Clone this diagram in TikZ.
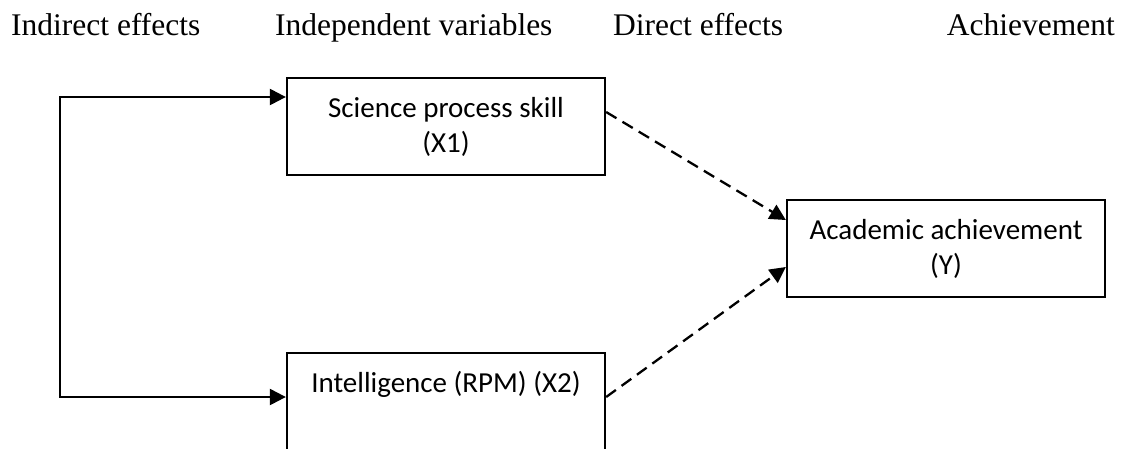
\documentclass[tikz,border=0pt]{standalone}
\usepackage{fontspec}
\setmainfont{Liberation Serif}
\newfontfamily\calibri{Carlito}
\usetikzlibrary{arrows.meta}
\begin{document}
\begin{tikzpicture}[x=1pt,y=1pt,
  head/.style={font=\fontsize{31.5}{38}\selectfont, anchor=base west, inner sep=0},
  varbox/.style={draw, line width=2.3pt, font=\calibri\fontsize{29}{35}\selectfont, align=center, inner sep=0},
  tipstyle/.style={line width=2.3pt, line join=miter},
  link/.style={tipstyle, -{Triangle[length=16pt,width=16pt]}},
  dlink/.style={link, dash pattern=on 12pt off 7pt}]
\useasboundingbox (0,0) rectangle (1122,-448);
\node[head] (h1) at (11,-35) {Indirect effects};
\node[head] (h2) at (275,-35) {Independent variables};
\node[head] (h3) at (613,-35) {Direct effects};
\node[head, anchor=base east] (h4) at (1115,-35) {Achievement};
\node[varbox, minimum width=318, minimum height=97] (x1) at (446,-126.5) {Science process skill\\(X1)};
\node[varbox, minimum width=318, text height=39, text depth=70, anchor=base] (x2) at (446,-392) {Intelligence (RPM) (X2)};
\node[varbox, minimum width=318, minimum height=97] (y) at (946,-248.5) {Academic achievement\\(Y)};
\coordinate (c1) at (60,-97);
\coordinate (c2) at (60,-397);
\draw[tipstyle, {Triangle[length=16pt,width=16pt]}-{Triangle[length=16pt,width=16pt]}] (x1.west |- c1) -- (c1) -- (c2) -- (c2 -| x2.west);
\draw[dlink] ([yshift=14.5pt]x1.east) -- ([yshift=28.5pt]y.west);
\draw[dlink] ([yshift=-5pt]x2.base east) -- ([yshift=-18.5pt]y.west);
\end{tikzpicture}
\end{document}
